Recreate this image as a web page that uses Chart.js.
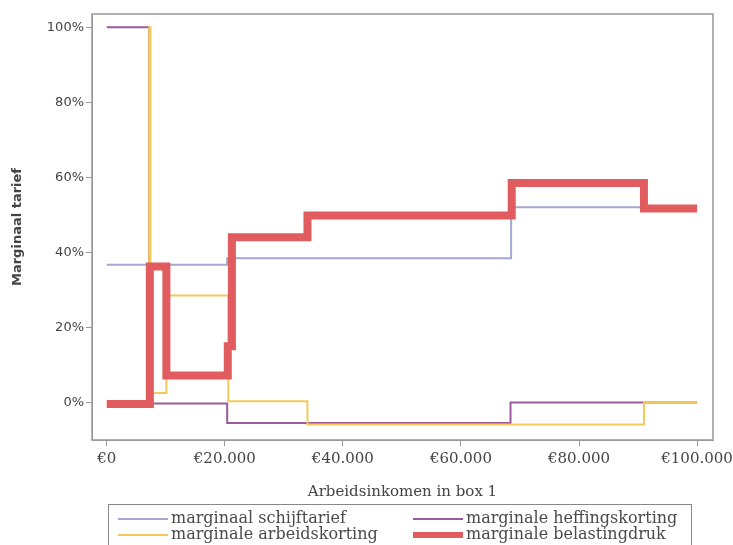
<!DOCTYPE html>
<html>
<head>
<meta charset="utf-8">
<script src="https://cdn.jsdelivr.net/npm/chart.js@4"></script>
<style>
  body { margin: 0; background: #fff; }
  #wrap { position: relative; width: 733px; height: 545px; overflow: hidden; }
  #legend {
    position: absolute; left: 108px; top: 504px; width: 584px; height: 50px;
    border: 1px solid #888; box-sizing: border-box;
    font-family: "DejaVu Serif", serif; font-size: 16px; color: #4a4a4a;
  }
  .item { position: absolute; height: 16px; line-height: 16px; white-space: nowrap; }
  .sw { display: inline-block; width: 50px; vertical-align: middle; margin-right: 3px; }
</style>
</head>
<body>
<div id="wrap">
  <canvas id="chart" width="733" height="505"></canvas>
  <div id="legend"></div>
</div>
<script>
// x = income (euro), y = percent; each value holds until the next x
var schijfX = [0, 20400, 68500, 100000];
var schijfY = [36.7, 38.4, 52, 52];

var heffingX = [0, 7200, 20400, 68400, 100000];
var heffingY = [100, -0.3, -5.5, 0, 0];

var arbeidX = [0, 7200, 7400, 10100, 20600, 34000, 91000, 100000];
var arbeidY = [-0.4, 100, 2.5, 28.5, 0.3, -5.9, 0, 0];

var drukX = [0, 7300, 10100, 20500, 21200, 34000, 68600, 91000, 100000];
var drukY = [-0.4, 36.2, 7.2, 15, 44, 49.8, 58.5, 51.7, 51.7];

var labels = ['marginaal schijftarief', 'marginale heffingskorting', 'marginale arbeidskorting', 'marginale belastingdruk'];
var colors = ['#a3a7d2', '#9c5a9c', '#f4c95a', '#e15c5e'];
var widths = [2, 2, 2, 8];

var xTicks = [0, 20000, 40000, 60000, 80000, 100000];
var xTickLabels = ['€0', '€20.000', '€40.000', '€60.000', '€80.000', '€100.000'];
var yTicks = [0, 20, 40, 60, 80, 100];

function pts(xs, ys) {
    return xs.map(function(x, i) { return { x: x, y: ys[i] }; });
}

var series = [pts(schijfX, schijfY), pts(heffingX, heffingY), pts(arbeidX, arbeidY), pts(drukX, drukY)];

var frame = {
    id: 'frame',
    afterDraw: function(c) {
        var a = c.chartArea, ctx = c.ctx;
        ctx.save();
        ctx.strokeStyle = '#999';
        ctx.lineWidth = 1.5;
        ctx.strokeRect(a.left, a.top, a.right - a.left, a.bottom - a.top);
        ctx.restore();
    }
};

var ctx = document.getElementById('chart').getContext('2d');
var chart = new Chart(ctx, {
    type: 'line',
    data: {
        datasets: series.map(function(d, i) {
            return {
                label: labels[i],
                data: d,
                stepped: 'before',
                order: 3 - i, // last series ends up on top
                borderColor: colors[i],
                borderWidth: widths[i],
                pointRadius: 0,
                fill: false
            };
        })
    },
    options: {
        responsive: false,
        animation: false,
        layout: { padding: { top: 14, right: 20 } },
        plugins: { legend: { display: false }, tooltip: { enabled: false } },
        scales: {
            x: {
                type: 'linear',
                min: -2500,
                max: 102700,
                afterBuildTicks: function(s) { s.ticks = xTicks.map(function(v) { return { value: v }; }); },
                afterFit: function(s) { s.height = 65; s.paddingLeft = 0; s.paddingRight = 0; },
                ticks: {
                    color: '#444',
                    font: { family: 'DejaVu Serif', size: 15 },
                    padding: 4,
                    maxRotation: 0,
                    autoSkip: false,
                    callback: function(v) { return xTickLabels[xTicks.indexOf(v)]; }
                },
                grid: { drawOnChartArea: false, tickLength: 6, color: '#999' },
                border: { color: '#999' },
                title: {
                    display: true,
                    text: 'Arbeidsinkomen in box 1',
                    color: '#444',
                    font: { family: 'DejaVu Serif', size: 15 },
                    padding: { top: 6 }
                }
            },
            y: {
                min: -10,
                max: 103.5,
                afterBuildTicks: function(s) { s.ticks = yTicks.map(function(v) { return { value: v }; }); },
                afterFit: function(s) { s.width = 92; },
                ticks: {
                    color: '#444',
                    font: { family: 'DejaVu Sans', size: 13 },
                    padding: 2,
                    callback: function(v) { return v + '%'; }
                },
                grid: { drawOnChartArea: false, tickLength: 6, color: '#999' },
                border: { color: '#999' },
                title: {
                    display: true,
                    text: 'Marginaal tarief',
                    color: '#444',
                    font: { family: 'DejaVu Sans', size: 13, weight: 'bold' },
                    padding: { top: 10, bottom: 10 }
                }
            }
        }
    },
    plugins: [frame]
});

// legend: two columns, filled row by row
var legend = document.getElementById('legend');
var spots = [[9, 5], [304, 5], [9, 21], [304, 21]];
labels.forEach(function(t, i) {
    var el = document.createElement('div');
    el.className = 'item';
    el.style.left = spots[i][0] + 'px';
    el.style.top = spots[i][1] + 'px';
    el.innerHTML = '<span class="sw" style="border-top:' + Math.max(widths[i] - 2, 2) + 'px solid ' + colors[i] + '"></span>' + t;
    legend.appendChild(el);
});
</script>
</body>
</html>
